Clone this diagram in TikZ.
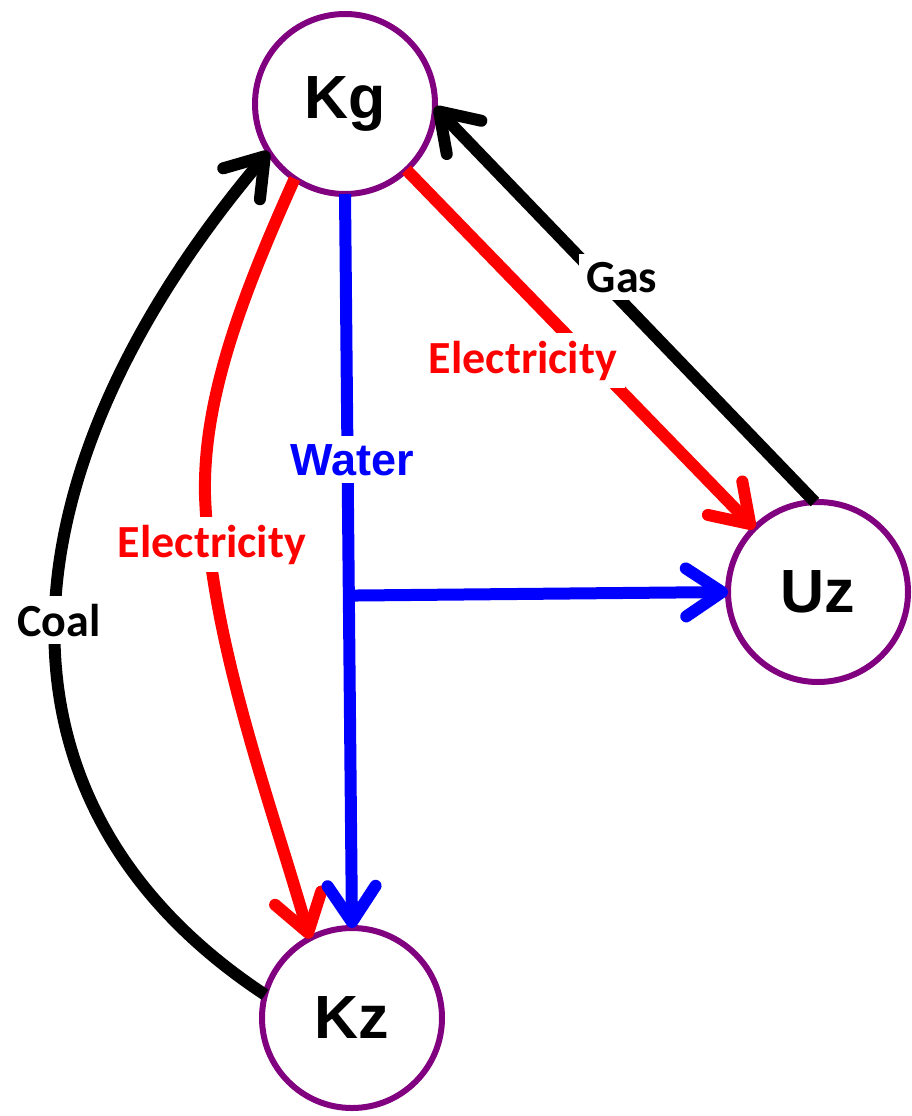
\documentclass[tikz,border=0pt]{standalone}
\usepackage{fontspec}
\newfontfamily\calfont{Carlito}
\newfontfamily\arialfont{Liberation Sans}
\usetikzlibrary{arrows.meta,calc}
\definecolor{nodepurple}{RGB}{128,0,128}
\definecolor{flowred}{RGB}{255,0,0}
\definecolor{flowblue}{RGB}{0,0,255}
\begin{document}
\begin{tikzpicture}[x=1pt,y=-1pt,
  country/.style={circle, draw=nodepurple, fill=white, line width=6pt, minimum size=180pt,
    inner sep=0pt, outer sep=0pt, font=\arialfont\bfseries\fontsize{61}{61}\selectfont},
  flow/.style={line width=12pt, -{Straight Barb[length=36pt,width=48pt,round]}},
  lab/.style={fill=white, inner sep=8pt, anchor=base, font=\calfont\bfseries\fontsize{46}{46}\selectfont},
  wlab/.style={fill=white, inner sep=8pt, anchor=base, font=\arialfont\bfseries\fontsize{45}{45}\selectfont},
]
\path[use as bounding box] (0,0) rectangle (912,1116);

\node[country] (Kg) at (345,104) {Kg};
\node[country] (Kz) at (352,1018) {Kz};
\node[country] (Uz) at (818,592) {Uz};

% Coal
\draw[flow, black] (Kz.165) .. controls (-30,800) and (0,470) .. (Kg.212);
% Electricity Kg -> Kz
\draw[flow, flowred] (Kg.236) .. controls (240,300) and (203,400) .. (205,495)
  .. controls (210,640) and (270,800) .. (Kz.118);
% Water
\draw[flow, flowblue] (Kg.south) -- (Kz.north);
\coordinate (branch) at ($(Kg.south)!(Uz.west)!(Kz.north)$);
\draw[flow, flowblue] (branch) -- (Uz.west);
% Electricity Kg -> Uz
\draw[flow, flowred] (Kg.313) -- (Uz.135);
% Gas
\draw[flow, black] (Uz.92) -- (Kg.-2);

% labels
\node[lab, text=black] (gas) at (622,292) {Gas};
\node[lab, text=flowred] (elr) at (523,373) {Electricity};
\node[wlab, text=flowblue] (water) at (352,475) {Water};
\node[lab, text=flowred] (ell) at (212,557) {Electricity};
\node[lab, text=black] (coal) at (59,636) {Coal};
\end{tikzpicture}
\end{document}
